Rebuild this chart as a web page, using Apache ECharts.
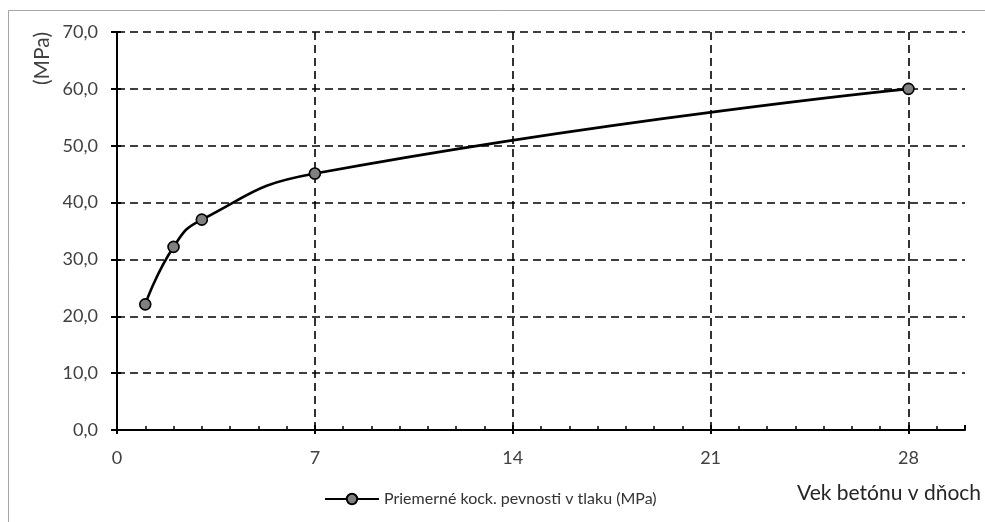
<!DOCTYPE html>
<html>
<head>
<meta charset="utf-8">
<script src="https://cdn.jsdelivr.net/npm/echarts@6/dist/echarts.min.js"></script>
<style>
  html, body { margin: 0; padding: 0; background: #fff; }
  #chart { width: 985px; height: 522px; }
</style>
</head>
<body>
<div id="chart"></div>
<script>
// Concrete cube strength vs. age
const days = [1, 2, 3, 7, 28];
const strength = [22.1, 32.2, 37.0, 45.1, 60.0];
const seriesName = 'Priemerné kock. pevnosti v tlaku (MPa)';
const xTitle = 'Vek betónu v dňoch';
const yTitle = '(MPa)';
const xTicks = [0, 7, 14, 21, 28];

const FONT = 'Lato, "Open Sans", sans-serif';
const NARROW = '"Liberation Sans Narrow", Lato, sans-serif';
const points = days.map((d, i) => [d, strength[i]]);

const dashed = { show: true, lineStyle: { color: '#000', width: 1.6, type: [8, 5] } };

const chart = echarts.init(document.getElementById('chart'), null, { renderer: 'canvas' });
chart.setOption({
  animation: false,
  backgroundColor: '#fff',
  grid: { left: 117, right: 20, top: 32, bottom: 92 },
  graphic: [
    {
      type: 'rect', silent: true, z: -1,
      shape: { x: 8.5, y: 10.5, width: 1200, height: 800 },
      style: { fill: 'none', stroke: '#a6a6a6', lineWidth: 1 }
    },
    {
      type: 'text', left: 32, top: 32, rotation: Math.PI / 2,
      style: { text: yTitle, font: '21px ' + FONT, fill: '#404040' }
    },
    {
      type: 'text', left: 797, top: 483,
      style: { text: xTitle, font: '21px ' + FONT, fill: '#262626' }
    }
  ],
  legend: {
    left: 319, top: 486,
    itemWidth: 54, itemHeight: 13, itemGap: 4,
    textStyle: { fontFamily: NARROW, fontSize: 16, color: '#333' },
    data: [seriesName]
  },
  xAxis: [
    {
      type: 'value', min: 0, max: 30, interval: 7,
      axisLine: { show: true, onZero: false, lineStyle: { color: '#000', width: 2 } },
      axisTick: { show: true, inside: true, length: 5, lineStyle: { color: '#000', width: 2 } },
      minorTick: { show: true, splitNumber: 7, length: 4, lineStyle: { color: '#000', width: 1.5 } },
      splitLine: Object.assign({ showMaxLine: false, showMinLine: false }, dashed),
      axisLabel: {
        margin: 19, customValues: xTicks,
        fontFamily: FONT, fontSize: 18, color: '#404040'
      }
    },
    {
      type: 'value', min: 0, max: 30, interval: 7, position: 'bottom',
      axisLine: { show: false },
      axisTick: { show: true, inside: false, length: 4, customValues: xTicks, lineStyle: { color: '#000', width: 2 } },
      splitLine: { show: false },
      axisLabel: { show: false }
    }
  ],
  yAxis: [
    {
      type: 'value', min: 0, max: 70, interval: 10,
      axisLine: { show: true, onZero: false, lineStyle: { color: '#000', width: 2 } },
      axisTick: { show: true, inside: true, length: 4, lineStyle: { color: '#000', width: 2 } },
      splitLine: Object.assign({ showMinLine: false }, dashed),
      axisLabel: {
        margin: 19, fontFamily: FONT, fontSize: 18, color: '#404040',
        formatter: v => v.toFixed(1).replace('.', ',')
      }
    },
    {
      type: 'value', min: 0, max: 70, interval: 10, position: 'left',
      axisLine: { show: false },
      axisTick: { show: true, inside: false, length: 6, lineStyle: { color: '#000', width: 2 } },
      splitLine: { show: false },
      axisLabel: { show: false }
    }
  ],
  series: [
    {
      name: seriesName,
      type: 'line',
      xAxisIndex: 0, yAxisIndex: 0,
      data: points,
      smooth: 0.5,
      symbol: 'circle',
      symbolSize: 11,
      lineStyle: { color: '#000', width: 2.6 },
      itemStyle: { color: '#808080', borderColor: '#000', borderWidth: 1.6 },
      z: 5
    }
  ]
});
</script>
</body>
</html>
